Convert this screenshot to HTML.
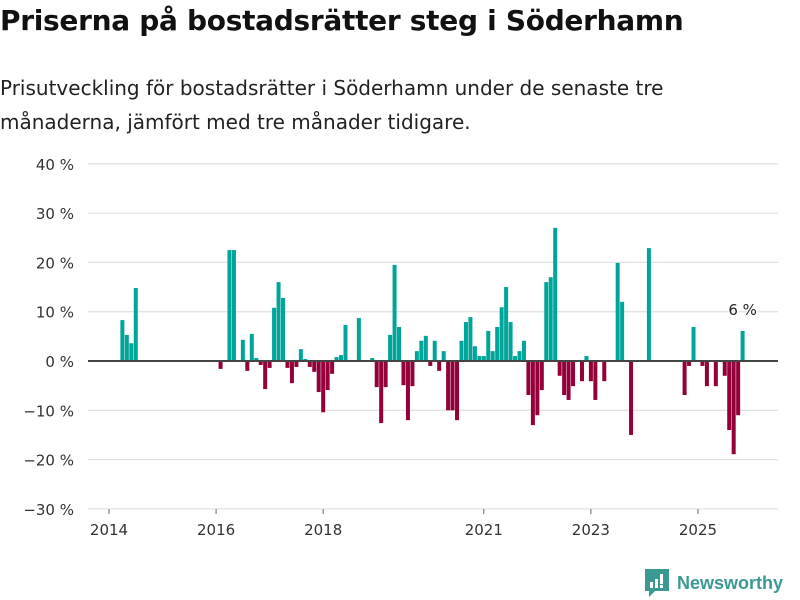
<!DOCTYPE html>
<html><head><meta charset="utf-8">
<style>
body{margin:0;width:800px;height:600px;background:#fff;font-family:"DejaVu Sans","Liberation Sans",sans-serif;overflow:hidden;position:relative}
h1{position:absolute;left:0;top:4px;margin:0;font-size:28px;font-weight:bold;color:#111;letter-spacing:-0.3px}
.sub{position:absolute;left:0;top:71px;margin:0;font-size:20px;line-height:34px;color:#222;width:720px}
svg{position:absolute;left:0;top:0}
.logo{position:absolute;left:645px;top:569px;display:flex;align-items:center;font-family:"Liberation Sans",sans-serif;font-size:18px;font-weight:bold;color:#3a9a92}
</style></head><body>
<h1>Priserna på bostadsrätter steg i Söderhamn</h1>
<p class="sub">Prisutveckling för bostadsrätter i Söderhamn under de senaste tre månaderna, jämfört med tre månader tidigare.</p>
<svg id="chart" width="800" height="600"></svg>
<div class="logo">
<svg width="24" height="28" viewBox="0 0 24 28" style="position:static;margin-right:8px"><path d="M0 0H24V22H10L4 28V22H0Z" fill="#3a9a92"/><rect x="5" y="13" width="3" height="6" fill="#fff"/><rect x="10" y="10" width="3" height="9" fill="#fff"/><rect x="15" y="5" width="3" height="10" fill="#fff"/><rect x="15" y="16" width="3" height="3" fill="#fff"/></svg>Newsworthy</div>
<script>
const startYear = 2014;
const values = [0,0,0,8.3,5.3,3.6,14.8,0,0,0,0,0,0,0,0,0,0,0,0,0,0,0,0,0,0,
-1.6,0,22.5,22.5,0,4.3,-2.0,5.5,0.6,-0.8,-5.7,-1.4,10.8,16.0,12.8,-1.4,-4.5,-1.2,2.4,0.4,-1.2,-2.2,-6.3,-10.4,-5.9,-2.6,0.8,1.2,7.3,0,0,8.7,0,0,0.6,
-5.3,-12.6,-5.3,5.3,19.5,6.9,-4.9,-12.0,-5.1,2.0,4.1,5.1,-1.0,4.1,-2.0,2.0,-10.0,-10.0,-12.0,4.1,7.9,8.9,3.0,1.0,
1.0,6.1,2.0,6.9,10.9,15.0,7.9,1.0,2.0,4.1,-6.9,-13.0,-11.0,-5.9,16.0,17.0,27.0,-3.0,-6.9,-7.9,-5.1,0,-4.1,1.0,
-4.1,-7.9,0,-4.1,0,0,19.9,12.0,0,-15.0,0,0,0,22.9,0,0,0,0,0,0,0,-6.9,-1.0,6.9,0,-1.0,-5.1,0,-5.1,0,-3.0,-14.0,-18.9,-11.0,6.1];
const yTicks = [40,30,20,10,0,-10,-20,-30];
const yTickLabels = ["40 %","30 %","20 %","10 %","0 %","−10 %","−20 %","−30 %"];
const xTickYears = [2014,2016,2018,2021,2023,2025];
const lastLabel = "6 %";

const svg = document.getElementById('chart');
const NS = 'http://www.w3.org/2000/svg';
const x0 = 109, pxPerMonth = 4.462;
const xScale = m => x0 + m * pxPerMonth;
const yScale = v => 361 - v * 4.93;
function mk(tag, attrs){const e=document.createElementNS(NS,tag);for(const k in attrs)e.setAttribute(k,attrs[k]);svg.appendChild(e);return e;}

yTicks.forEach((t,i)=>{
  const y = yScale(t);
  if(t!==0){const g=mk('line',{x1:88,x2:778,y1:y,y2:y,stroke:'#e3e3e3','stroke-width':1.3});
  
  }
  const tx=mk('text',{x:74,y:y+6,'text-anchor':'end','font-size':15,fill:'#333'});
  tx.textContent=yTickLabels[i];
  
  
});
values.forEach((v,m)=>{
  if(v===0) return;
  const cx = xScale(m), y = yScale(Math.max(v,0)), h = Math.abs(yScale(v)-yScale(0));
  const r=mk('rect',{x:cx-2,y:y,width:4,height:h,fill:v>0?'#00a59a':'#940039'});
  
  
});
const zl=mk('line',{x1:88,x2:778,y1:yScale(0),y2:yScale(0),stroke:'#444','stroke-width':2});


xTickYears.forEach(yr=>{
  const x=xScale((yr-startYear)*12);
  const tl=mk('line',{x1:x,x2:x,y1:509,y2:514,stroke:'#666','stroke-width':1});
  
  
  const t=mk('text',{x:x,y:535,'text-anchor':'middle','font-size':15,fill:'#333'});
  t.textContent=yr;
  
  
});
const last=values.length-1;
const lb=mk('text',{x:xScale(last),y:yScale(values[last])-16,'text-anchor':'middle','font-size':15,fill:'#222',stroke:'#fff','stroke-width':3,'paint-order':'stroke'});
lb.textContent=lastLabel;


</script>
</body></html>
